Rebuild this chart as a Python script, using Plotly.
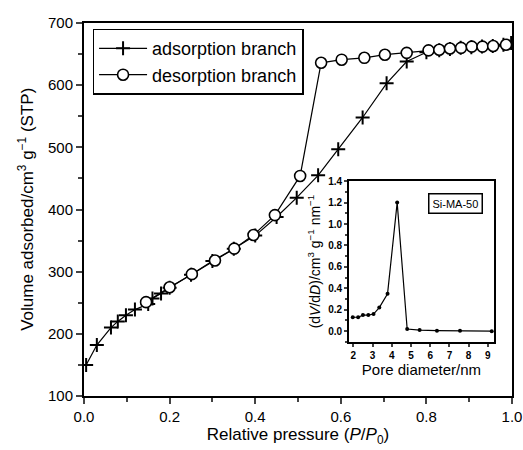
import plotly.graph_objects as go

# Main isotherm data
ads_x = [0.005, 0.03, 0.063, 0.079, 0.098, 0.119, 0.15, 0.16, 0.18, 0.2, 0.25, 0.3, 0.35, 0.4, 0.45,
         0.497, 0.547, 0.594, 0.651, 0.707, 0.754, 0.8, 0.83, 0.855, 0.88, 0.905, 0.93, 0.955, 0.98, 0.998]
ads_y = [150, 182, 210, 220, 230, 239, 248, 257, 265, 274, 295, 317, 337, 358, 388,
         419, 455, 497, 548, 603, 638, 653, 656, 658, 660, 661, 662, 663, 665, 668]

des_x = [0.145, 0.2, 0.252, 0.306, 0.351, 0.396, 0.446, 0.505, 0.554, 0.602, 0.655, 0.703, 0.754,
         0.805, 0.83, 0.855, 0.881, 0.906, 0.931, 0.956, 0.986]
des_y = [251, 275, 296, 318, 337, 359, 391, 454, 636, 641, 644, 649, 652,
         656, 657, 659, 660, 662, 662, 663, 665]

# Inset pore size distribution
pore_d = [1.97, 2.25, 2.5, 2.78, 3.05, 3.35, 3.78, 4.28, 4.8, 5.45, 6.35, 7.55, 9.2]
dvdd = [0.13, 0.13, 0.15, 0.15, 0.16, 0.22, 0.35, 1.2, 0.02, 0.01, 0.005, 0.003, 0.0]

FONT = "Arial, Liberation Sans, sans-serif"

fig = go.Figure()
fig.add_trace(go.Scatter(
    x=ads_x, y=ads_y, mode="lines+markers", name="adsorption branch",
    line=dict(color="black", width=1.2),
    marker=dict(symbol="cross-thin", size=10, line=dict(color="black", width=2)),
))
fig.add_trace(go.Scatter(
    x=des_x, y=des_y, mode="lines+markers", name="desorption branch",
    line=dict(color="black", width=1.2),
    marker=dict(symbol="circle", size=11, color="white", line=dict(color="black", width=1.6)),
))
fig.add_trace(go.Scatter(
    x=pore_d, y=dvdd, mode="lines+markers", showlegend=False,
    xaxis="x2", yaxis="y2",
    line=dict(color="black", width=1.2),
    marker=dict(symbol="circle", size=4, color="black"),
))

fig.update_layout(
    width=523, height=450,
    margin=dict(l=84, r=11, t=23, b=54, autoexpand=False),
    paper_bgcolor="white", plot_bgcolor="white",
    font=dict(family=FONT, color="black", size=14),
    showlegend=True,
    legend=dict(x=0.02, y=0.985, xanchor="left", yanchor="top",
                bordercolor="black", borderwidth=1.5, bgcolor="white",
                font=dict(size=18), itemwidth=48, tracegroupgap=0,
                itemsizing="trace"),
    xaxis=dict(
        range=[0, 1.0], domain=[0, 1], automargin=False,
        tickvals=[0, 0.2, 0.4, 0.6, 0.8, 1.0], tickformat=".1f",
        ticks="outside", ticklen=6, tickwidth=2,
        minor=dict(dtick=0.1, tick0=0, ticks="outside", ticklen=4, tickwidth=2),
        showline=True, linecolor="black", linewidth=2, mirror=True,
        showgrid=False, zeroline=False,
        tickfont=dict(size=15),
        title=dict(text="Relative pressure (<i>P</i>/<i>P</i><sub>0</sub>)", font=dict(size=17), standoff=4),
    ),
    yaxis=dict(
        range=[100, 700], domain=[0, 1], automargin=False,
        dtick=100, tick0=100,
        ticks="outside", ticklen=6, tickwidth=2,
        minor=dict(dtick=50, tick0=100, ticks="outside", ticklen=4, tickwidth=2),
        showline=True, linecolor="black", linewidth=2, mirror=True,
        showgrid=False, zeroline=False,
        tickfont=dict(size=15),
    ),
    xaxis2=dict(
        domain=[0.619, 0.958], anchor="y2", automargin=False,
        range=[1.77, 9.32], dtick=1, tick0=2,
        ticks="outside", ticklen=3, tickwidth=1.5,
        showline=True, linecolor="black", linewidth=1.5, mirror=True,
        showgrid=False, zeroline=False,
        tickfont=dict(size=10, weight="bold"),
        title=dict(text="Pore diameter/nm", font=dict(size=15), standoff=4),
    ),
    yaxis2=dict(
        domain=[0.145, 0.576], anchor="x2", automargin=False,
        range=[-0.1, 1.4], dtick=0.2, tick0=0, tickformat=".1f",
        ticks="outside", ticklen=3, tickwidth=1.5,
        minor=dict(dtick=0.1, ticks="outside", ticklen=2),
        showline=True, linecolor="black", linewidth=1.5, mirror=True,
        showgrid=False, zeroline=False,
        tickfont=dict(size=10, weight="bold"),
        title=dict(text="(d<i>V</i>/d<i>D</i>)/cm<sup>3</sup> g<sup>−1</sup> nm<sup>−1</sup>", font=dict(size=14), standoff=4),
    ),
    annotations=[
        dict(
            text="Si-MA-50", xref="x2", yref="y2", x=7.3, y=1.195,
            showarrow=False, font=dict(size=11, family=FONT),
            bordercolor="black", borderwidth=1.5, borderpad=3, bgcolor="white",
        ),
        dict(
            text="Volume adsorbed/cm<sup>3</sup> g<sup>−1</sup> (STP)",
            xref="paper", yref="paper", x=-0.137, y=0.5,
            xanchor="center", yanchor="middle", textangle=-90,
            showarrow=False, font=dict(size=17, family=FONT),
        ),
    ],
)

fig.write_html("out.html", config={"displayModeBar": False},
               post_script="document.body.style.margin='0';document.body.style.padding='0';")
